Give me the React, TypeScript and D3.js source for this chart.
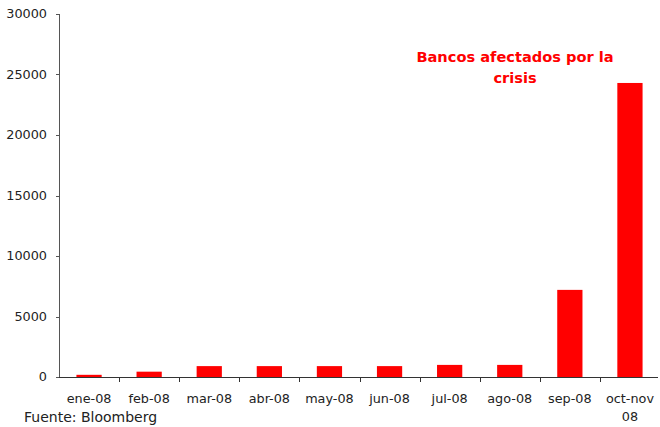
import React from "react";
import * as d3 from "d3";

const categories: string[] = [
  "ene-08", "feb-08", "mar-08", "abr-08", "may-08",
  "jun-08", "jul-08", "ago-08", "sep-08", "oct-nov\n08",
];
const values: number[] = [180, 440, 900, 900, 900, 900, 1000, 1000, 7200, 24300];
const yTicks: number[] = [0, 5000, 10000, 15000, 20000, 25000, 30000];
const title: string[] = ["Bancos afectados por la", "crisis"];
const source = "Fuente: Bloomberg";

const W = 660;
const H = 427;
const left = 59;
const right = 660;
const top = 14;
const bottom = 377;
const font = "Tahoma, 'DejaVu Sans', Verdana, sans-serif";

export default function App() {
  const x = d3
    .scaleBand<string>()
    .domain(categories)
    .range([left, right])
    .paddingInner(0.58)
    .paddingOuter(0.29);
  const y = d3.scaleLinear().domain([0, 30000]).range([bottom, top]);
  const step = x.step();
  const boundaries = d3.range(1, categories.length).map((i) => left + i * step);

  return (
    <svg
      width={W}
      height={H}
      style={{ position: "absolute", left: 0, top: 0, background: "#fff" }}
      fontFamily={font}
    >
      {/* bars */}
      {categories.map((c, i) => (
        <rect
          key={c}
          x={x(c)!}
          y={y(values[i])}
          width={x.bandwidth()}
          height={bottom - y(values[i])}
          fill="#ff0000"
        />
      ))}

      {/* y axis */}
      <line x1={left + 0.5} x2={left + 0.5} y1={top} y2={bottom} stroke="#555" />
      {yTicks.map((t) => (
        <g key={t}>
          <line x1={left - 3} x2={left} y1={Math.round(y(t)) + 0.5} y2={Math.round(y(t)) + 0.5} stroke="#555" />
          <text x={47} y={y(t)} dy="0.35em" textAnchor="end" fontSize={12.8} fill="#222">
            {t}
          </text>
        </g>
      ))}

      {/* x axis */}
      <line x1={left} x2={658} y1={bottom + 0.5} y2={bottom + 0.5} stroke="#333" />
      {boundaries.map((bx, i) => (
        <line key={i} x1={Math.round(bx) + 0.5} x2={Math.round(bx) + 0.5} y1={bottom} y2={bottom + 5} stroke="#333" />
      ))}
      {categories.map((c) => {
        const cx = x(c)! + x.bandwidth() / 2;
        return (
          <text key={c} x={cx} y={403} textAnchor="middle" fontSize={12.8} fill="#222">
            {c.split("\n").map((line, j) => (
              <tspan key={j} x={cx} dy={j === 0 ? 0 : 18}>
                {line}
              </tspan>
            ))}
          </text>
        );
      })}

      {/* annotation */}
      <text x={515} y={62} textAnchor="middle" fontSize={14.6} fontWeight="bold" fill="#ff0000">
        {title.map((line, j) => (
          <tspan key={j} x={515} dy={j === 0 ? 0 : 21}>
            {line}
          </tspan>
        ))}
      </text>

      {/* source */}
      <text x={24} y={422} fontSize={14} fill="#222">
        {source}
      </text>
    </svg>
  );
}
